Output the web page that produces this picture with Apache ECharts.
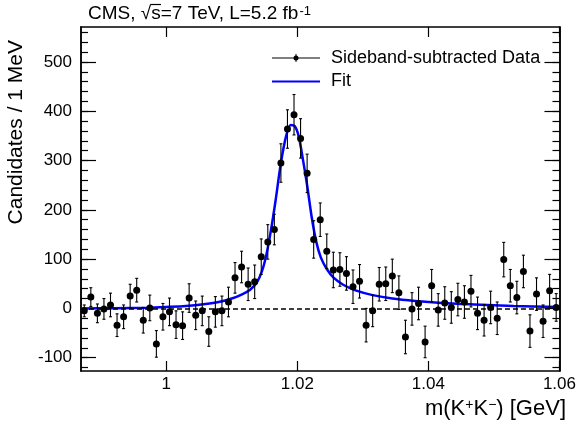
<!DOCTYPE html>
<html><head><meta charset="utf-8">
<script src="https://cdn.jsdelivr.net/npm/echarts@6/dist/echarts.min.js"></script>
<style>html,body{margin:0;padding:0;background:#fff}#c{width:579px;height:424px}</style>
</head><body><div id="c"></div>
<script>
// ---- data ----
const binLow = 0.987;
const binWidth = 0.001;
const counts = [-5, 23, -10, -1, 7, -34, -17, 25, 37, -24,
  1, -72, -17, -7, -33, -35, 21, -14, -5, -47,
  -7, -5, 13, 62, 84, 49, 54, 105, 135, 160,
  295, 364, 393, 345, 274, 140, 180, 116, 78, 79,
  71, 44, 55, -34, -5, 49, 50, 66, 32, -58,
  -1, 10, -68, 46, -3, 11, 2, 18, 13, 35,
  -10, -24, 2, -20, 99, 46, 22, 75, -46, 29,
  -26, 36, 2];
const errors = [12, 19, 19, 21, 24, 23, 24, 24, 24, 26,
  26, 27, 27, 28, 28, 28, 29, 29, 30, 30,
  31, 30, 30, 31, 32, 33, 34, 36, 35, 31,
  39, 39, 41, 40, 39, 38, 34, 35, 36, 34,
  34, 34, 34, 34, 32, 34, 34, 34, 34, 34,
  33, 33, 32, 33, 33, 33, 32, 33, 33, 32,
  33, 32, 33, 33, 35, 33, 33, 33, 33, 33,
  33, 33, 28];
const fitMass = [0.987, 0.992, 0.997, 1.000, 1.003, 1.006, 1.008, 1.010, 1.0115, 1.0128,
  1.0138, 1.0146, 1.0153, 1.0160, 1.0167, 1.0175, 1.0183, 1.0190, 1.0196, 1.0202,
  1.0208, 1.0215, 1.0222, 1.0229, 1.0236, 1.0245, 1.0255, 1.0270, 1.0290, 1.0315,
  1.0345, 1.0380, 1.0420, 1.0470, 1.0530, 1.0600];
const fitValue = [0, 0.5, 1.5, 3, 5, 9, 13, 20, 28, 38,
  52, 75, 110, 160, 220, 295, 350, 372, 370, 350,
  307, 250, 185, 135, 103, 80, 63, 48, 36, 27,
  20, 15, 11, 8, 5, 3];
const xTicks = [1, 1.02, 1.04, 1.06];
const yTicks = [-100, 0, 100, 200, 300, 400, 500];
const yMinorTicks = [-120, -100, -80, -60, -40, -20, 0, 20, 40, 60, 80, 100, 120, 140, 160, 180, 200,
  220, 240, 260, 280, 300, 320, 340, 360, 380, 400, 420, 440, 460, 480, 500, 520, 540, 560];
const xRange = [0.987, 1.06];
const yRange = [-127, 571];

const centers = counts.map((v, i) => binLow + binWidth * (i + 0.5));
const pts = counts.map((v, i) => [centers[i], v, errors[i]]);
const fitData = fitMass.map((m, i) => [m, fitValue[i]]);

const FF = '"Liberation Sans", Arial, Helvetica, sans-serif';
const chart = echarts.init(document.getElementById('c'), null, {renderer: 'canvas'});

function xAx(pos, labels) {
  return {
    type: 'value', position: pos, min: xRange[0], max: xRange[1],
    axisLine: {show: true, onZero: false, lineStyle: {color: '#000', width: 1.5}},
    axisTick: {show: true, inside: true, length: 10, customValues: xTicks, lineStyle: {color: '#000', width: 1.2}},
    axisLabel: {show: labels, customValues: xTicks, color: '#000', fontSize: 17, fontFamily: FF, margin: 5,
      formatter: v => String(Math.round(v * 100) / 100)},
    splitLine: {show: false}
  };
}
function yAx(pos, ticks, len, labels) {
  return {
    type: 'value', position: pos, min: yRange[0], max: yRange[1],
    axisLine: {show: true, onZero: false, lineStyle: {color: '#000', width: 1.5}},
    axisTick: {show: true, inside: true, length: len, customValues: ticks, lineStyle: {color: '#000', width: 1.2}},
    axisLabel: {show: labels, customValues: ticks, color: '#000', fontSize: 17, fontFamily: FF, margin: 9},
    splitLine: {show: false}
  };
}

chart.setOption({
  animation: false,
  backgroundColor: '#fff',
  grid: {left: 81, right: 18, top: 27, bottom: 53},
  xAxis: [xAx('bottom', true), xAx('top', false)],
  yAxis: [yAx('left', yTicks, 15, true), yAx('left', yMinorTicks, 7, false),
          yAx('right', yTicks, 15, false), yAx('right', yMinorTicks, 7, false)],
  series: [
    {
      type: 'line', data: fitData, smooth: 0.3, showSymbol: false, z: 3,
      lineStyle: {color: '#0000ff', width: 2.5},
      markLine: {silent: true, symbol: 'none', label: {show: false},
        lineStyle: {color: '#000', type: [5, 3], width: 1.5},
        data: [{yAxis: 0}]}
    },
    {
      type: 'custom', data: pts, z: 4,
      encode: {x: 0, y: 1},
      renderItem: function (params, api) {
        const x = api.value(0), y = api.value(1), e = api.value(2);
        const t = api.coord([x, y + e]);
        const b = api.coord([x, y - e]);
        const c = 1.5;
        const st = {stroke: '#000', lineWidth: 1.1};
        return {type: 'group', children: [
          {type: 'line', shape: {x1: t[0], y1: t[1], x2: b[0], y2: b[1]}, style: st},
          {type: 'line', shape: {x1: t[0] - c, y1: t[1], x2: t[0] + c, y2: t[1]}, style: st},
          {type: 'line', shape: {x1: b[0] - c, y1: b[1], x2: b[0] + c, y2: b[1]}, style: st}
        ]};
      }
    },
    {
      type: 'scatter', data: pts.map(p => [p[0], p[1]]), symbol: 'circle', symbolSize: 7, z: 5,
      itemStyle: {color: '#000', opacity: 1}
    }
  ],
  graphic: [
    {type: 'text', x: 88, y: 14, style: {text: 'CMS, √s=7 TeV, L=5.2 fb{sup|-1}', fill: '#000',
      font: '19px ' + FF, verticalAlign: 'middle', align: 'left',
      rich: {sup: {fontSize: 13, fontFamily: FF, verticalAlign: 'top', fill: '#000', padding: [0, 0, 0, 1]}}}},
    {type: 'line', shape: {x1: 150.5, y1: 4.5, x2: 161, y2: 4.5}, style: {stroke: '#000', lineWidth: 1.2}},
    {type: 'text', x: 16, y: 40, rotation: Math.PI / 2, style: {text: 'Candidates / 1 MeV', fill: '#000',
      font: '21px ' + FF, align: 'right', verticalAlign: 'middle'}},
    {type: 'text', x: 566, y: 409, style: {text: 'm(K{sup|+}K{sup|−}) [GeV]', fill: '#000',
      font: '22px ' + FF, align: 'right', verticalAlign: 'middle',
      rich: {sup: {fontSize: 14, fontFamily: FF, verticalAlign: 'top', fill: '#000'}}}},
    {type: 'line', shape: {x1: 272, y1: 58, x2: 320, y2: 58}, style: {stroke: '#000', lineWidth: 1}},
    {type: 'line', shape: {x1: 296, y1: 54, x2: 296, y2: 62}, style: {stroke: '#000', lineWidth: 1}},
    {type: 'circle', shape: {cx: 296, cy: 58, r: 2.5}, style: {fill: '#000'}},
    {type: 'text', x: 331, y: 58, style: {text: 'Sideband-subtracted Data', fill: '#000',
      font: '18px ' + FF, verticalAlign: 'middle'}},
    {type: 'line', shape: {x1: 272, y1: 81.5, x2: 320, y2: 81.5}, style: {stroke: '#0000ff', lineWidth: 2}},
    {type: 'text', x: 331, y: 81.5, style: {text: 'Fit', fill: '#000',
      font: '18px ' + FF, verticalAlign: 'middle'}}
  ]
});
</script></body></html>
